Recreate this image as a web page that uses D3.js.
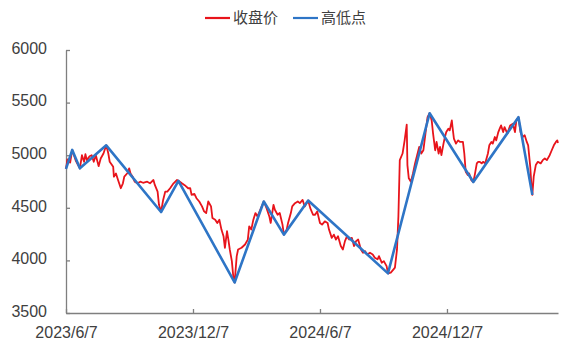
<!DOCTYPE html>
<html>
<head>
<meta charset="utf-8">
<script src="https://cdn.jsdelivr.net/npm/d3@7"></script>
<style>
  body { margin: 0; background: #fff; }
  svg { display: block; }
  .axis path, .axis line { stroke: #7f7f7f; stroke-width: 1.3; }
  .axis text { font-family: "Liberation Sans", Arial, sans-serif; font-size: 16px; fill: #404040; }
  .legend text { font-family: "Noto Sans CJK SC", sans-serif; font-size: 15px; fill: #404040; }
</style>
</head>
<body>
<svg id="chart"></svg>
<script>
// series names
const seriesNames = ['收盘价', '高低点'];

// closing price
const closeDates = [
  '2023-06-07','2023-06-09','2023-06-13','2023-06-16','2023-06-19','2023-06-21','2023-06-27','2023-06-30',
  '2023-07-03','2023-07-05','2023-07-07','2023-07-11','2023-07-14','2023-07-17','2023-07-20','2023-07-24',
  '2023-07-27','2023-07-31','2023-08-04','2023-08-07','2023-08-09','2023-08-14','2023-08-15','2023-08-18',
  '2023-08-21','2023-08-25','2023-08-28','2023-08-30','2023-09-04','2023-09-06','2023-09-08','2023-09-11',
  '2023-09-14','2023-09-18','2023-09-22','2023-09-26','2023-10-02','2023-10-06','2023-10-11','2023-10-13',
  '2023-10-17','2023-10-19','2023-10-22','2023-10-25','2023-10-28','2023-10-31','2023-11-04','2023-11-09',
  '2023-11-14','2023-11-16','2023-11-21','2023-11-25','2023-11-30','2023-12-03','2023-12-05','2023-12-09',
  '2023-12-12','2023-12-16','2023-12-20','2023-12-23','2023-12-26','2023-12-29','2024-01-02','2024-01-04',
  '2024-01-08','2024-01-11','2024-01-14','2024-01-17','2024-01-20','2024-01-22','2024-01-25','2024-01-27',
  '2024-01-29','2024-02-01','2024-02-03','2024-02-05','2024-02-08','2024-02-10','2024-02-15','2024-02-20',
  '2024-02-24','2024-02-26','2024-02-29','2024-03-03','2024-03-06','2024-03-09','2024-03-13','2024-03-16',
  '2024-03-18','2024-03-22','2024-03-26','2024-03-28','2024-04-01','2024-04-03','2024-04-07','2024-04-10',
  '2024-04-14','2024-04-16','2024-04-20','2024-04-22','2024-04-26','2024-04-28','2024-05-02','2024-05-06',
  '2024-05-09','2024-05-13','2024-05-16','2024-05-21','2024-05-24','2024-05-28','2024-05-31','2024-06-03',
  '2024-06-07','2024-06-10','2024-06-14','2024-06-18','2024-06-20','2024-06-24','2024-06-27','2024-06-30',
  '2024-07-03','2024-07-07','2024-07-10','2024-07-13','2024-07-16','2024-07-19','2024-07-23','2024-07-26',
  '2024-07-29','2024-08-01','2024-08-05','2024-08-08','2024-08-11','2024-08-14','2024-08-18','2024-08-22',
  '2024-08-25','2024-08-29','2024-08-31','2024-09-04','2024-09-07','2024-09-11','2024-09-13','2024-09-17',
  '2024-09-21','2024-09-23','2024-09-26','2024-09-28','2024-09-30','2024-10-04','2024-10-07','2024-10-10',
  '2024-10-11','2024-10-13','2024-10-16','2024-10-19','2024-10-22','2024-10-25','2024-10-28','2024-10-31',
  '2024-11-03','2024-11-06','2024-11-09','2024-11-12','2024-11-15','2024-11-17','2024-11-20','2024-11-22',
  '2024-11-25','2024-11-27','2024-11-29','2024-12-02','2024-12-04','2024-12-06','2024-12-09','2024-12-11',
  '2024-12-14','2024-12-15','2024-12-17','2024-12-20','2024-12-23','2024-12-26','2024-12-30','2025-01-01',
  '2025-01-03','2025-01-06','2025-01-08','2025-01-11','2025-01-14','2025-01-16','2025-01-19','2025-01-21',
  '2025-01-23','2025-01-26','2025-01-28','2025-01-31','2025-02-04','2025-02-06','2025-02-09','2025-02-11',
  '2025-02-14','2025-02-16','2025-02-19','2025-02-21','2025-02-23','2025-02-26','2025-02-28','2025-03-04',
  '2025-03-08','2025-03-12','2025-03-15','2025-03-17','2025-03-20','2025-03-23','2025-03-26','2025-03-29',
  '2025-04-01','2025-04-03','2025-04-06','2025-04-08','2025-04-09','2025-04-11','2025-04-14','2025-04-17',
  '2025-04-21','2025-04-24','2025-04-27','2025-04-30','2025-05-04','2025-05-07','2025-05-10','2025-05-13',
  '2025-05-15','2025-05-16'
];
const closeValues = [
  4870,4960,4930,5050,4990,4950,4875,5000,
  4937,5009,4953,4990,5000,4937,5000,4896,
  4969,5016,5094,5016,4937,4890,4796,4827,
  4764,4686,4733,4796,4833,4875,4827,4796,
  4748,4733,4748,4738,4748,4733,4764,4717,
  4654,4528,4460,4575,4654,4654,4686,4733,
  4764,4757,4733,4715,4686,4686,4623,4632,
  4591,4560,4513,4466,4450,4560,4513,4403,
  4387,4356,4387,4293,4230,4120,4277,4198,
  4104,3993,3852,3790,4041,4104,4120,4151,
  4198,4324,4293,4387,4450,4418,4481,4528,
  4560,4497,4418,4356,4528,4481,4434,4450,
  4340,4245,4293,4356,4450,4513,4544,4560,
  4544,4575,4513,4569,4497,4434,4434,4466,
  4356,4340,4371,4356,4293,4214,4245,4198,
  4230,4136,4104,4183,4230,4198,4214,4136,
  4183,4198,4104,4073,4088,4057,4073,4057,
  4026,4010,4041,3978,3993,3946,3877,3884,
  3915,3931,4104,4418,4953,5016,5141,5290,
  4906,4780,4748,4827,4922,5000,5079,5016,
  5047,5205,5362,5399,5330,5205,5047,5126,
  5016,5079,5000,5110,5173,5220,5252,5236,
  5330,5267,5157,5110,5141,5126,5126,5016,
  4843,4811,4827,4764,4745,4811,4922,4937,
  4937,4922,4937,4922,5016,5094,5126,5110,
  5173,5141,5220,5252,5283,5220,5267,5205,
  5283,5299,5220,5330,5361,5220,5173,5189,
  5126,5094,4890,4686,4623,4796,4906,4937,
  4922,4953,4969,4953,5000,5047,5094,5126,
  5141,5117
];

// zigzag of highs and lows
const pivotDates = [
  '2023-06-07','2023-06-16','2023-06-27','2023-08-04','2023-10-22','2023-11-16','2024-02-05','2024-03-18',
  '2024-04-16','2024-05-21','2024-09-13','2024-11-12','2025-01-14','2025-03-20','2025-04-09'
];
const pivotValues = [4870, 5050, 4875, 5094, 4460, 4757, 3790, 4560, 4245, 4569, 3877, 5399, 4745, 5361, 4623];

// axes
const yTicks = [3500, 4000, 4500, 5000, 5500, 6000];
const xTickDates = ['2023-06-07', '2023-12-07', '2024-06-07', '2024-12-07'];
const xDomain = ['2023-06-07', '2025-05-16'];

const W = 567, H = 345;
const margin = { top: 50, right: 9, bottom: 32, left: 66 };
const parse = d3.timeParse('%Y-%m-%d');
const fmt = d3.timeFormat('%Y/%-m/%-d');

const svg = d3.select('#chart')
  .attr('width', W)
  .attr('height', H);

const x = d3.scaleTime()
  .domain(xDomain.map(parse))
  .range([margin.left, W - margin.right]);

const y = d3.scaleLinear()
  .domain([3500, 6000])
  .range([H - margin.bottom, margin.top]);

const closes = closeDates.map((d, i) => ({ date: parse(d), value: closeValues[i] }));
const pivots = pivotDates.map((d, i) => ({ date: parse(d), value: pivotValues[i] }));

// y axis, ticks pointing inward
svg.append('g')
  .attr('class', 'axis')
  .attr('transform', `translate(${margin.left},0)`)
  .call(d3.axisLeft(y)
    .tickValues(yTicks)
    .tickSizeInner(-4)
    .tickSizeOuter(0)
    .tickPadding(19)
    .tickFormat(d3.format('d')))
  .selectAll('text')
  .attr('dy', '0.2em');

// x axis
svg.append('g')
  .attr('class', 'axis')
  .attr('transform', `translate(0,${H - margin.bottom})`)
  .call(d3.axisBottom(x)
    .tickValues(xTickDates.map(parse))
    .tickSizeInner(-4)
    .tickSizeOuter(0)
    .tickPadding(14)
    .tickFormat(fmt));

const line = d3.line()
  .x(d => x(d.date))
  .y(d => y(d.value));

svg.append('path')
  .datum(closes)
  .attr('fill', 'none')
  .attr('stroke', '#e8141b')
  .attr('stroke-width', 1.8)
  .attr('stroke-linejoin', 'round')
  .attr('d', line);

svg.append('path')
  .datum(pivots)
  .attr('fill', 'none')
  .attr('stroke', '#2e75c6')
  .attr('stroke-width', 2.6)
  .attr('stroke-linejoin', 'round')
  .attr('d', line);

// legend
const legend = svg.append('g').attr('class', 'legend');
const legendColors = ['#e8141b', '#2e75c6'];
const legendX = [205, 293];
seriesNames.forEach((name, i) => {
  legend.append('line')
    .attr('x1', legendX[i])
    .attr('x2', legendX[i] + 25)
    .attr('y1', 18)
    .attr('y2', 18)
    .attr('stroke', legendColors[i])
    .attr('stroke-width', 2.2);
  legend.append('text')
    .attr('x', legendX[i] + 28)
    .attr('y', 18)
    .attr('dy', '0.36em')
    .text(name);
});
</script>
</body>
</html>
